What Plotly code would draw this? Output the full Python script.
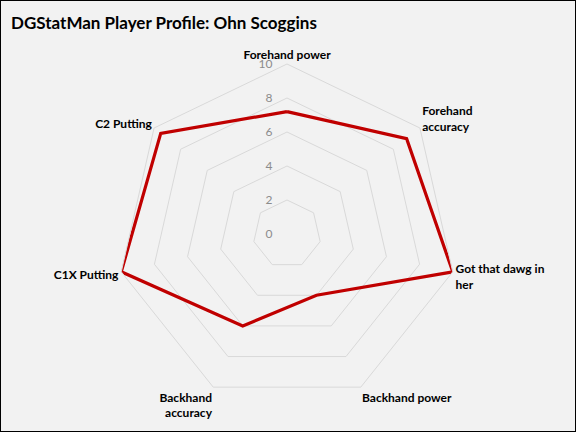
import plotly.graph_objects as go

categories = ["Forehand power", "Forehand<br>accuracy", "Got that dawg in<br>her", "Backhand power",
              "Backhand<br>accuracy", "C1X Putting", "C2 Putting"]
values = [7.2, 9.0, 10.0, 4.0, 6.0, 10.0, 9.5]
radial_ticks = [0, 2, 4, 6, 8, 10]
title_text = "DGStatMan Player Profile: Ohn Scoggins"

W, H = 576, 432
cx, cy, R = 287, 234, 170

theta = ["<b>" + c + "</b>" for c in categories]

fig = go.Figure()
fig.add_trace(go.Scatterpolar(
    r=values + values[:1],
    theta=theta + theta[:1],
    mode="lines",
    line=dict(color="#c00000", width=3.2),
    hoverinfo="skip",
    showlegend=False,
))

fig.update_layout(
    width=W, height=H,
    margin=dict(l=0, r=0, t=0, b=0),
    paper_bgcolor="#f2f2f2",
    plot_bgcolor="#f2f2f2",
    font=dict(family="Lato, Inter, sans-serif", color="#000000"),
    polar=dict(
        domain=dict(x=[(cx - R) / W, (cx + R) / W], y=[(H - cy - R) / H, (H - cy + R) / H]),
        bgcolor="#f2f2f2",
        gridshape="linear",
        radialaxis=dict(
            range=[0, 10],
            tickvals=radial_ticks,
            ticktext=[str(t) + "\u00a0" * 4 for t in radial_ticks],
            angle=90,
            tickangle=90,
            side="counterclockwise",
            showline=False,
            ticks="",
            gridcolor="#d9d9d9",
            gridwidth=1,
            tickfont=dict(size=12, color="#8c8c8c"),
        ),
        angularaxis=dict(
            type="category",
            categoryorder="array",
            categoryarray=theta,
            rotation=90,
            direction="clockwise",
            showgrid=False,
            showline=True,
            linecolor="#d9d9d9",
            linewidth=1,
            ticks="",
            tickfont=dict(size=12, color="#000000", family="Lato, Inter, sans-serif"),
        ),
    ),
    annotations=[dict(
        text="<b>" + title_text + "</b>",
        xref="paper", yref="paper",
        x=9 / W, y=1 - 22 / H,
        xanchor="left", yanchor="middle",
        showarrow=False,
        font=dict(size=17, color="#000000", family="Lato, Inter, sans-serif"),
    )],
    shapes=[dict(
        type="rect", xref="paper", yref="paper",
        x0=0, y0=0, x1=1, y1=1,
        line=dict(color="#000000", width=2),
        fillcolor="rgba(0,0,0,0)",
    )],
)

fig.write_html("out.html")
